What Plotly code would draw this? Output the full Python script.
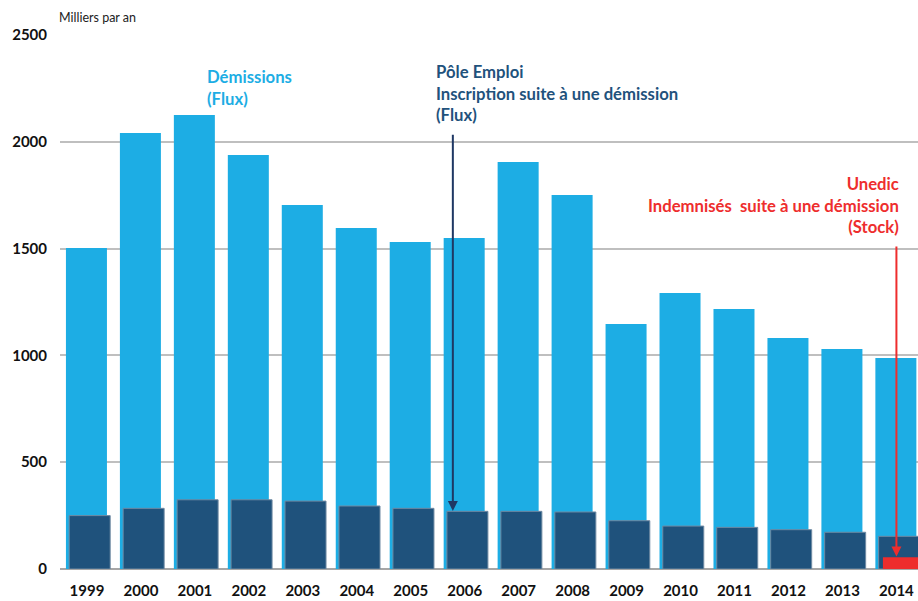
import plotly.graph_objects as go

years = ["1999", "2000", "2001", "2002", "2003", "2004", "2005", "2006",
         "2007", "2008", "2009", "2010", "2011", "2012", "2013", "2014"]
demissions = [1503, 2041, 2125, 1938, 1704, 1596, 1531, 1550,
              1905, 1751, 1147, 1292, 1217, 1081, 1030, 988]
pole_emploi = [250, 284, 324, 324, 318, 295, 284, 270,
               270, 267, 226, 201, 195, 184, 172, 153]
unedic_year = ["2014"]
unedic = [55]
y_ticks = [0, 500, 1000, 1500, 2000, 2500]

LIGHT = "#1DADE4"
DARK = "#1F527C"
RED = "#EE2D2D"
NAVY = "#1F3864"
FONT = "Lato"

fig = go.Figure()
fig.add_trace(go.Bar(x=years, y=demissions, marker=dict(color=LIGHT, line=dict(width=0)),
                     width=0.76, offset=-0.39, name="Démissions"))
fig.add_trace(go.Bar(x=years, y=pole_emploi, marker=dict(color=DARK, line=dict(width=1, color="#6f8aa3")),
                     width=0.76, offset=-0.33, name="Pôle Emploi"))
fig.add_trace(go.Bar(x=unedic_year, y=unedic, marker=dict(color=RED, line=dict(width=0)),
                     width=0.76, offset=-0.25, name="Unedic"))

fig.update_layout(
    width=918, height=601,
    margin=dict(l=60, r=0, t=35, b=32, autoexpand=False),
    barmode="overlay",
    showlegend=False,
    plot_bgcolor="white", paper_bgcolor="white",
    font=dict(family=FONT, size=15, color="#111111"),
    xaxis=dict(type="category", range=[-0.5, 15.4], showgrid=False,
               showline=False, zeroline=False, ticks="", automargin=False,
               tickfont=dict(family=FONT, size=15, color="#111111", weight="bold"),
               ticklabelstandoff=11),
    yaxis=dict(range=[0, 2500], tickvals=y_ticks, showgrid=True, automargin=False,
               gridcolor="#BFBFBF", gridwidth=2, zeroline=True,
               zerolinecolor="#A6A6A6", zerolinewidth=2, ticks="",
               tickfont=dict(family=FONT, size=15, color="#111111", weight="bold"),
               ticklabelstandoff=12),
)

fig.add_annotation(text="Milliers par an", xref="paper", yref="paper", x=-0.004, y=1.0,
                   yshift=18, xanchor="left", yanchor="middle", showarrow=False,
                   font=dict(family=FONT, size=12.5, color="#222222"))

fig.add_annotation(text="<b>Démissions<br>(Flux)</b>", xref="x", yref="y", x=2, y=2254,
                   xshift=10, xanchor="left", yanchor="middle", align="left", showarrow=False,
                   font=dict(family=FONT, size=16.7, color=LIGHT))

fig.add_annotation(text="<b>Pôle Emploi<br>Inscription suite à une démission<br>(Flux)</b>",
                   xref="x", yref="y", x=6.5, y=2228, xshift=-4, xanchor="left", yanchor="middle",
                   align="left", showarrow=False,
                   font=dict(family=FONT, size=16.7, color=DARK))

fig.add_annotation(text="<b>Unedic<br>Indemnisés  suite à une démission<br>(Stock)</b>",
                   xref="x", yref="y", x=15, y=1700, xshift=5, xanchor="right", yanchor="middle",
                   align="right", showarrow=False,
                   font=dict(family=FONT, size=16.7, color=RED))

fig.add_annotation(text="", xref="x", yref="y", x=6.78, y=272,
                   axref="x", ayref="y", ax=6.78, ay=2040,
                   showarrow=True, arrowhead=2, arrowsize=1, arrowwidth=2, arrowcolor=NAVY)

fig.add_annotation(text="", xref="x", yref="y", x=15.0, y=58,
                   axref="x", ayref="y", ax=15.0, ay=1517,
                   showarrow=True, arrowhead=2, arrowsize=1, arrowwidth=2, arrowcolor=RED)

fig.write_html("out.html", config={"displayModeBar": False},
               post_script="document.body.style.margin='0';")
